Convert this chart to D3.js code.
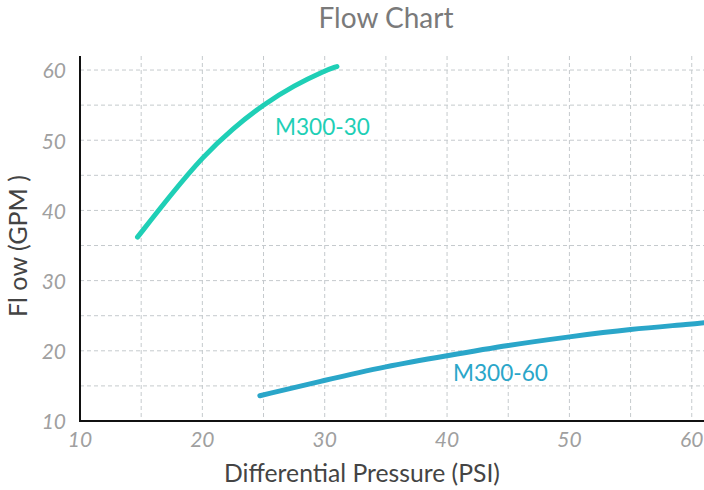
<!DOCTYPE html>
<html lang="en">
<head>
  <meta charset="utf-8" />
  <title>Flow Chart</title>
  <script src="https://cdn.jsdelivr.net/npm/d3@7"></script>
  <style>
    body { margin: 0; background: #fff; }
    svg { font-family: Lato, "Open Sans", sans-serif; }
    .grid line { stroke: #c5cacd; stroke-dasharray: 4,3; stroke-width: 1; }
    .tick-label { fill: #a0a0a0; font-style: italic; font-size: 21px; }
  </style>
</head>
<body>
<svg id="chart" width="704" height="490"></svg>
<script>
  // data
  var xTicks = [10, 20, 30, 40, 50, 60];
  var yTicks = [10, 20, 30, 40, 50, 60];
  var gridX = [15, 20, 25, 30, 35, 40, 45, 50, 55, 60];
  var gridY = [15, 20, 25, 30, 35, 40, 45, 50, 55, 60];

  var m30psi  = [14.7, 17.5, 20, 22.5, 25, 27.5, 30, 31];
  var m30flow = [36.2, 42.4, 47.6, 51.7, 55.1, 57.8, 59.9, 60.5];

  var m60psi  = [24.7, 30, 35, 40, 45, 50, 55, 60, 62];
  var m60flow = [13.6, 15.8, 17.8, 19.3, 20.8, 22.0, 23.1, 23.8, 24.2];

  var series = [
    {name: "M300-30", color: "#1fcfb6", x: m30psi, y: m30flow, lx: 275, ly: 127},
    {name: "M300-60", color: "#2aa6c9", x: m60psi, y: m60flow, lx: 453, ly: 373}
  ];

  var svg = d3.select("#chart");
  var pLeft = 80, pRight = 704, pTop = 56, pBottom = 421;

  var x = d3.scaleLinear().domain([10, 61]).range([pLeft, pRight]);
  var y = d3.scaleLinear().domain([10, 62]).range([pBottom, pTop]);

  // fit a text element to a target width
  function fit(sel, w) {
    var len = sel.node().getComputedTextLength();
    var fs = parseFloat(sel.style("font-size"));
    sel.style("font-size", (fs * w / len) + "px");
  }

  var grid = svg.append("g").attr("class", "grid");
  grid.selectAll(".gx").data(gridX).enter().append("line")
    .attr("x1", function(d) { return x(d); }).attr("x2", function(d) { return x(d); })
    .attr("y1", pTop).attr("y2", pBottom);
  grid.selectAll(".gy").data(gridY).enter().append("line")
    .attr("y1", function(d) { return y(d); }).attr("y2", function(d) { return y(d); })
    .attr("x1", pLeft).attr("x2", pRight);

  svg.append("clipPath").attr("id", "plot")
    .append("rect").attr("x", pLeft).attr("y", pTop - 10)
    .attr("width", pRight - pLeft).attr("height", pBottom - pTop + 10);

  var line = d3.line().curve(d3.curveBasis);

  var lines = svg.append("g").attr("clip-path", "url(#plot)");
  series.forEach(function(s) {
    var pts = s.x.map(function(v, i) { return [x(v), y(s.y[i])]; });
    lines.append("path")
      .attr("d", line(pts))
      .attr("fill", "none")
      .attr("stroke", s.color)
      .attr("stroke-width", 5)
      .attr("stroke-linecap", "round");
  });

  series.forEach(function(s) {
    var t = svg.append("text")
      .attr("x", s.lx).attr("y", s.ly)
      .attr("dy", "0.35em")
      .style("font-size", "21px")
      .attr("fill", s.color)
      .text(s.name);
    fit(t, 95);
  });

  // axes
  svg.append("line").attr("x1", pLeft).attr("x2", pLeft)
    .attr("y1", pTop).attr("y2", pBottom + 1)
    .attr("stroke", "#111").attr("stroke-width", 2);
  svg.append("line").attr("x1", pLeft - 1).attr("x2", pRight)
    .attr("y1", pBottom).attr("y2", pBottom)
    .attr("stroke", "#111").attr("stroke-width", 2);

  svg.selectAll(".yt").data(yTicks).enter().append("text")
    .attr("class", "tick-label")
    .attr("x", 66)
    .attr("y", function(d) { return y(d) + 1; })
    .attr("dy", "0.35em")
    .attr("text-anchor", "end")
    .text(function(d) { return d; });

  svg.selectAll(".xt").data(xTicks).enter().append("text")
    .attr("class", "tick-label")
    .attr("x", function(d) { return x(d); })
    .attr("y", 440)
    .attr("dy", "0.35em")
    .attr("text-anchor", "middle")
    .text(function(d) { return d; });

  var title = svg.append("text")
    .attr("x", 386).attr("y", 18).attr("dy", "0.35em")
    .attr("text-anchor", "middle")
    .attr("fill", "#7a7a7a")
    .style("font-size", "24px")
    .text("Flow Chart");
  fit(title, 135);

  var xl = svg.append("text")
    .attr("x", 362).attr("y", 473).attr("dy", "0.35em")
    .attr("text-anchor", "middle")
    .attr("fill", "#444")
    .style("font-size", "22px")
    .text("Differential Pressure (PSI)");
  fit(xl, 276);

  var yl = svg.append("text")
    .attr("transform", "translate(18,246) rotate(-90)")
    .attr("dy", "0.35em")
    .attr("text-anchor", "middle")
    .attr("fill", "#444")
    .style("font-size", "22px")
    .text("Fl ow (GPM )");
  fit(yl, 142);
</script>
</body>
</html>
